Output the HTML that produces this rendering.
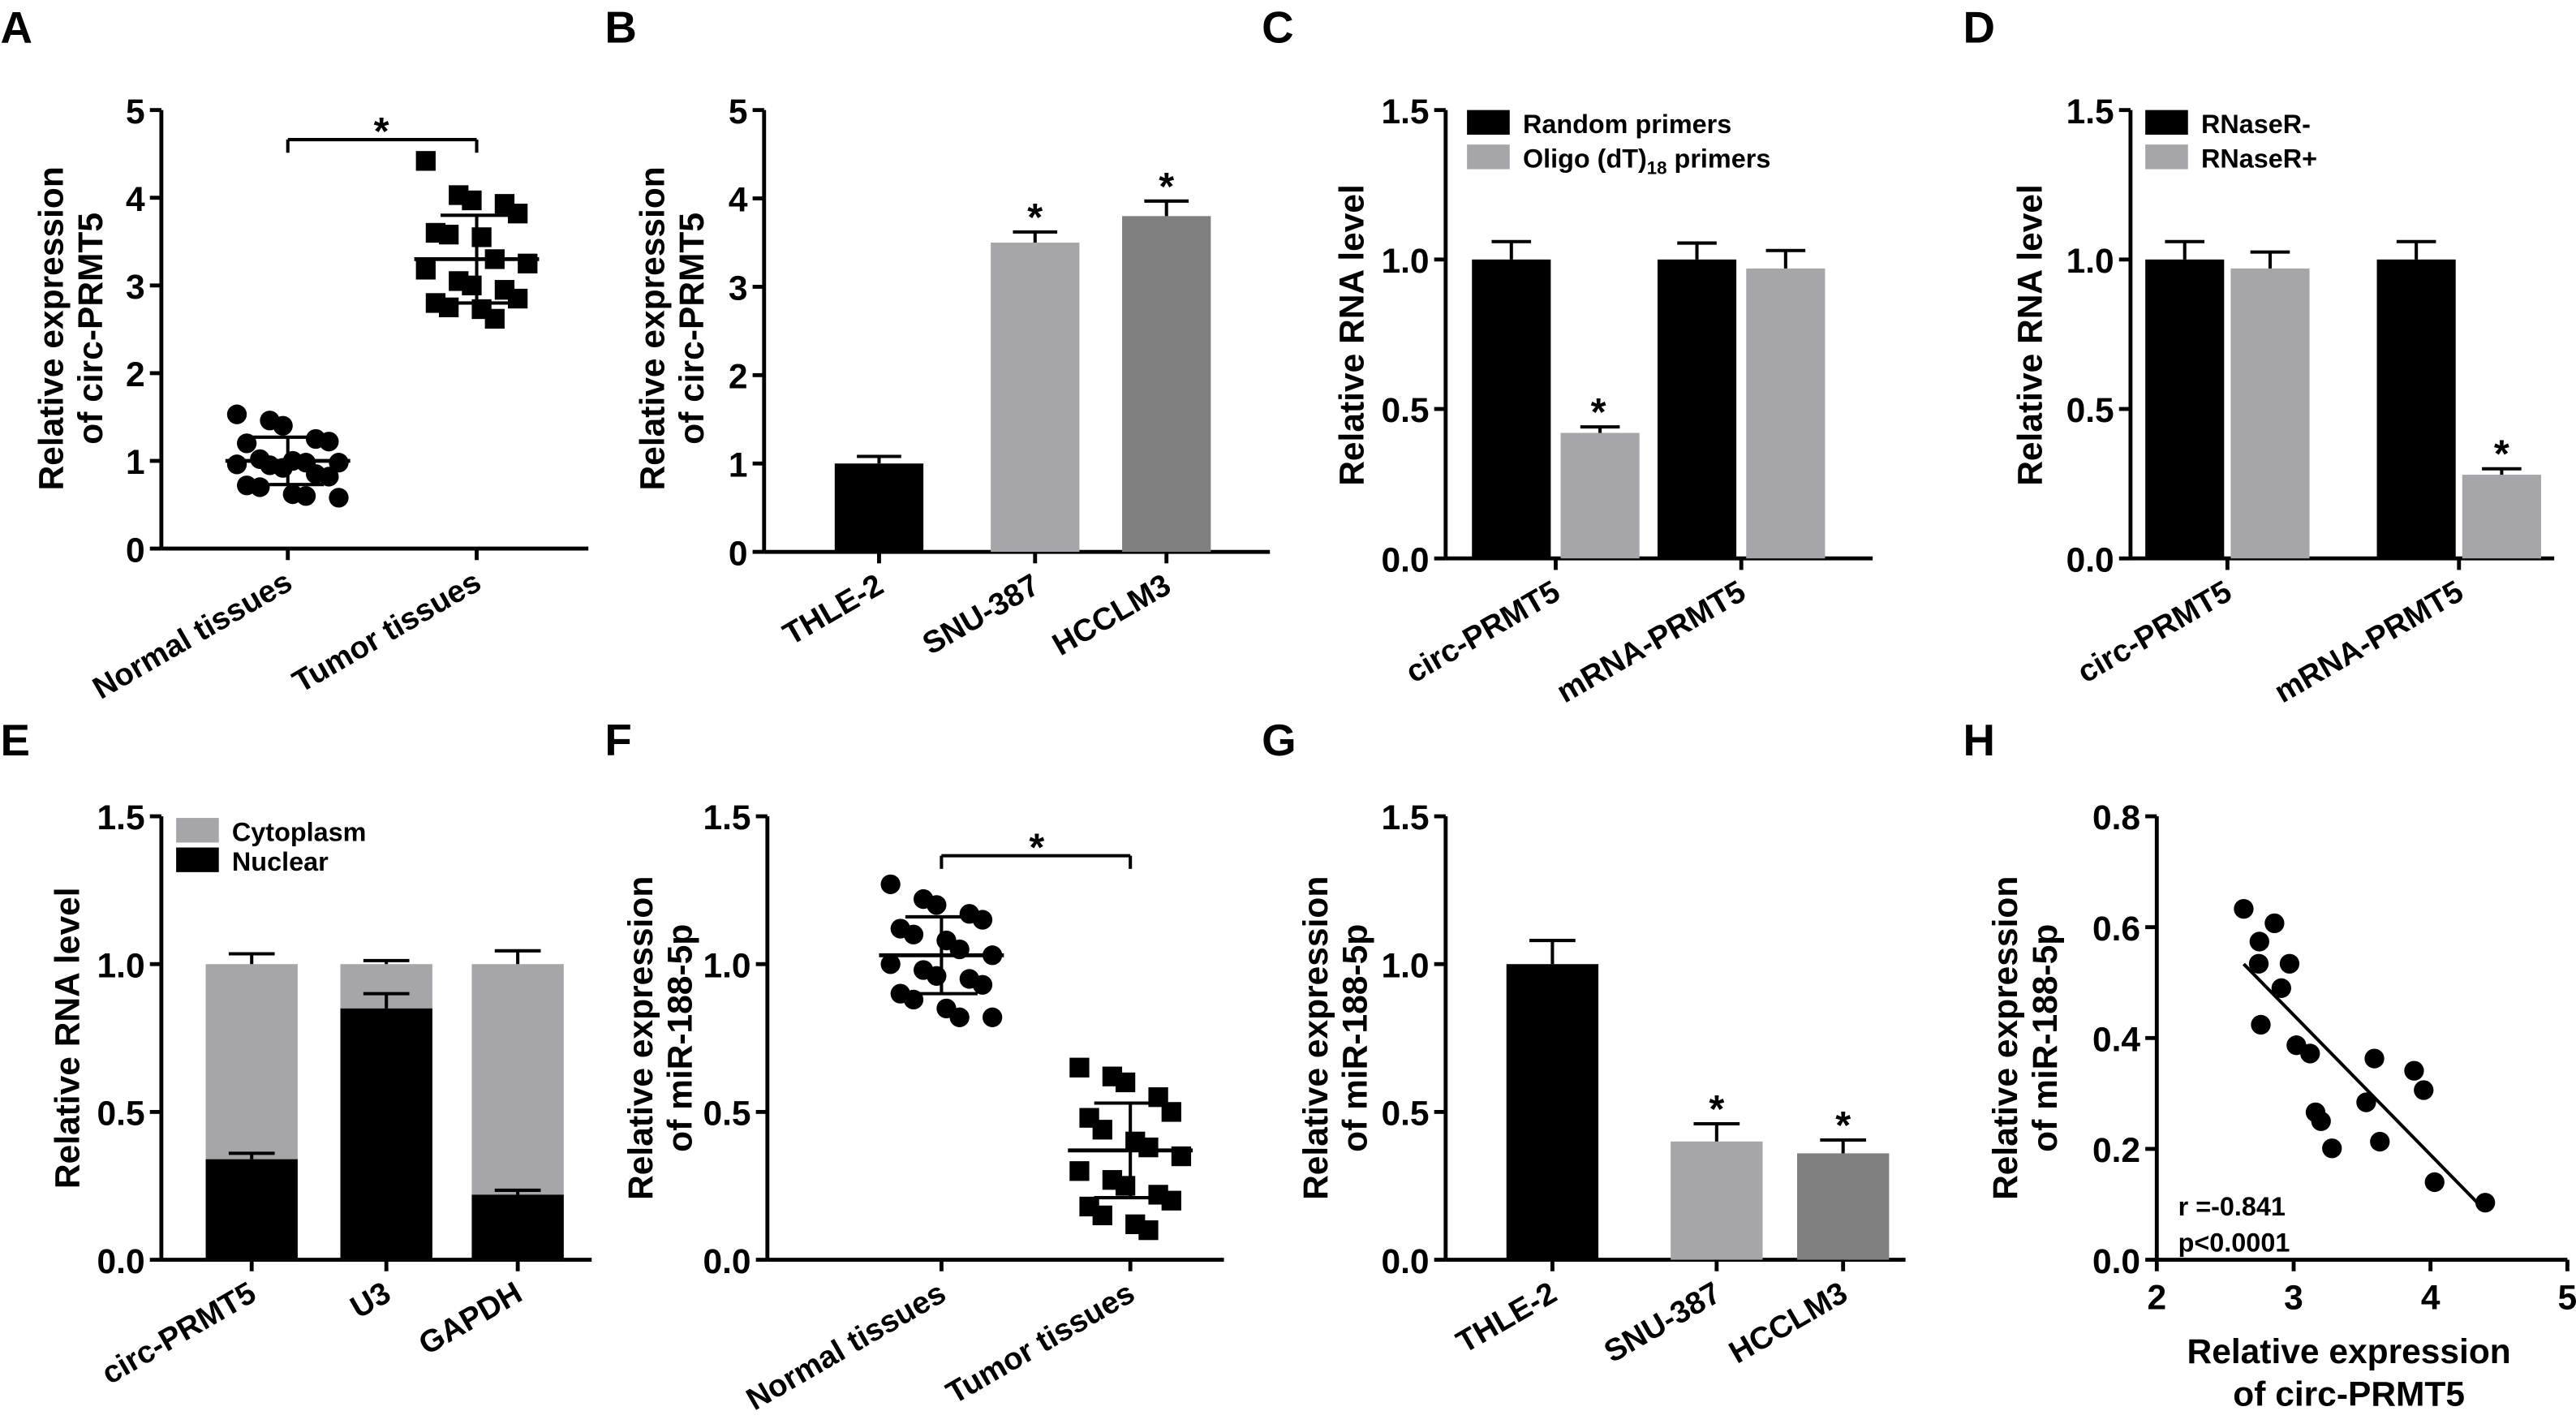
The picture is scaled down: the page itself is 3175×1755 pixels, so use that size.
<!DOCTYPE html>
<html><head><meta charset="utf-8"><style>
html,body{margin:0;padding:0;background:#fff;}
svg{display:block;font-family:"Liberation Sans",Arial,sans-serif;font-weight:bold;}
</style></head><body>
<svg id="fig" width="3175" height="1755" viewBox="0 0 1568 867" xmlns="http://www.w3.org/2000/svg"></svg>
<script>
// ---------- data ----------
const aNormal=[1.53,1.46,1.40,1.25,1.22,1.20,1.02,1.00,0.98,0.98,0.96,0.95,0.92,0.85,0.82,0.72,0.70,0.62,0.60,0.58];
const aTumor=[4.42,4.03,3.97,3.93,3.82,3.60,3.58,3.55,3.30,3.25,3.18,3.05,3.00,2.95,2.85,2.80,2.75,2.73,2.62];
const aMean=[1.0,3.3]; const aSD=[0.27,0.5];
const bCats=['THLE-2','SNU-387','HCCLM3']; const bVals=[1.0,3.5,3.8]; const bErr=[0.08,0.12,0.17];
const cCats=['circ-PRMT5','mRNA-PRMT5']; const cRandom=[1.0,1.0]; const cRandomErr=[0.06,0.055]; const cOligo=[0.42,0.97]; const cOligoErr=[0.02,0.06];
const dCats=['circ-PRMT5','mRNA-PRMT5']; const dMinus=[1.0,1.0]; const dMinusErr=[0.06,0.06]; const dPlus=[0.97,0.28]; const dPlusErr=[0.055,0.02];
const eCats=['circ-PRMT5','U3','GAPDH']; const eNuclear=[0.34,0.85,0.22]; const eNuclearErr=[0.02,0.05,0.015]; const eTotal=[1.0,1.0,1.0]; const eTotalErr=[0.035,0.012,0.045];
const fNormal=[1.27,1.22,1.20,1.17,1.15,1.12,1.10,1.08,1.05,1.03,1.00,0.98,0.96,0.95,0.93,0.90,0.88,0.85,0.82,0.82];
const fTumor=[0.65,0.62,0.60,0.55,0.50,0.48,0.44,0.40,0.38,0.35,0.30,0.27,0.25,0.22,0.20,0.18,0.15,0.12,0.10];
const fMean=[1.03,0.37]; const fSD=[0.13,0.16];
const gCats=['THLE-2','SNU-387','HCCLM3']; const gVals=[1.0,0.40,0.36]; const gErr=[0.08,0.06,0.045];
const hX=[2.635,2.86,2.75,2.745,2.97,2.91,2.76,3.02,3.12,3.59,3.88,3.95,3.53,3.16,3.20,3.63,3.28,4.03,4.40];
const hY=[0.633,0.607,0.574,0.534,0.534,0.490,0.424,0.387,0.372,0.363,0.341,0.306,0.284,0.266,0.250,0.213,0.201,0.140,0.103];
const ticks5=['0','1','2','3','4','5']; const ticks15=['0.0','0.5','1.0','1.5']; const ticksH=['0.0','0.2','0.4','0.6','0.8']; const ticksHx=['2','3','4','5'];

const NS='http://www.w3.org/2000/svg'; const svg=document.getElementById('fig');
function mk(tag,attrs,name,parent){const e=document.createElementNS(NS,tag);for(const k in attrs)e.setAttribute(k,attrs[k]);


(parent||svg).appendChild(e);return e;}
function txt(x,y,s,size,name,extra){const t=mk('text',Object.assign({x:x,y:y,'font-size':size,fill:'#000'},extra||{}),name);t.textContent=s;return t;}
function line(x1,y1,x2,y2,name,w){return mk('line',{x1,y1,x2,y2,stroke:'#000','stroke-width':w||2.4},name);}

function axis(o){
  mk('g',{},o.key+'-axes');
  const ys=v=>o.y0-(v-o.vmin)/(o.vmax-o.vmin)*(o.y0-o.ytop);
  line(o.x0,o.ytop,o.x0,o.y0,o.key+'-y-axis');
  line(o.x0,o.y0,o.x1,o.y0,o.key+'-x-axis');
  o.labels.forEach((l,i)=>{const v=o.vmin+i*(o.vmax-o.vmin)/(o.labels.length-1);const y=ys(v);
    line(o.x0-7,y,o.x0,y,o.key+'-y-tick');
    txt(o.x0-10,y+8,l,21,o.key+'-y-tick-label',{'text-anchor':'end'});});
  return ys;}
function yTitle(x,y,lines,name){lines.forEach((l,i)=>txt(x+i*24,y,l,21,name,{'text-anchor':'middle',transform:`rotate(-90 ${x+i*24} ${y})`}));}
function xCat(x,y0,label,key){line(x,y0,x,y0+7,key+'-x-tick');txt(x+4,y0+24,label,19,key+'-x-label',{'text-anchor':'end',transform:`rotate(-30 ${x+4} ${y0+24})`});}
function bar(cx,w,v,err,ys,y0,color,name){mk('rect',{x:cx-w/2,y:ys(v),width:w,height:y0-ys(v),fill:color},name);
  line(cx,ys(v),cx,ys(v+err),name+'-error',2);line(cx-w/4,ys(v+err),cx+w/4,ys(v+err),name+'-error-cap',2);}
function star(x,y,name){txt(x,y,'*',24,name,{'text-anchor':'middle'});}
function panel(l,x,y){txt(x,y,l,27,'panel-label-'+l.toLowerCase());}
function scatter(vals,cx,ys,shape,name){vals.forEach((v,i)=>{const off=((i%5)-2)*14+((i%2)?3:-3);const y=ys(v);
  if(shape==='c')mk('circle',{cx:cx+off,cy:y,r:6,fill:'#000'},name);else mk('rect',{x:cx+off-6,y:y-6,width:12,height:12,fill:'#000'},name);});}
function meanSD(cx,m,sd,ys,name){line(cx-38,ys(m),cx+38,ys(m),name+'-mean',2.4);line(cx,ys(m-sd),cx,ys(m+sd),name+'-sd',2);
  line(cx-22,ys(m+sd),cx+22,ys(m+sd),name+'-sd-cap',2);line(cx-22,ys(m-sd),cx+22,ys(m-sd),name+'-sd-cap',2);}
function legend(x,y,color,label,name,sub){mk('rect',{x:x,y:y-8,width:26,height:15,fill:color},name+'-swatch');const t=txt(x+34,y+6,label,16,name+'-label');if(sub){const s=document.createElementNS(NS,'tspan');s.setAttribute('font-size','11');s.setAttribute('dy','4');s.textContent=sub[0];t.appendChild(s);const s2=document.createElementNS(NS,'tspan');s2.setAttribute('dy','-4');s2.textContent=sub[1];t.appendChild(s2);}}

// ---------- A ----------
panel('A',0,26);
let ys=axis({x0:98,y0:334,x1:358,ytop:67,vmin:0,vmax:5,labels:ticks5,key:'a'});
yTitle(38,200,['Relative expression','of circ-PRMT5'],'a-y-title');
scatter(aNormal,175,ys,'c','a-normal-point');scatter(aTumor,290,ys,'s','a-tumor-point');
meanSD(175,aMean[0],aSD[0],ys,'a-normal');meanSD(290,aMean[1],aSD[1],ys,'a-tumor');
xCat(175,334,'Normal tissues','a');xCat(290,334,'Tumor tissues','a');
line(175,85,290,85,'a-bracket',2);line(175,85,175,93,'a-bracket',2);line(290,85,290,93,'a-bracket',2);star(232,88,'a-star');

// ---------- B ----------
panel('B',368,26);
ys=axis({x0:465,y0:336,x1:773,ytop:67,vmin:0,vmax:5,labels:ticks5,key:'b'});
yTitle(404,200,['Relative expression','of circ-PRMT5'],'b-y-title');
const bX=[535,630,710],bCol=['#000','#a6a6aa','#808080'];
bCats.forEach((c,i)=>{bar(bX[i],54,bVals[i],bErr[i],ys,336,bCol[i],'b-bar-'+c.toLowerCase());if(i>0)star(bX[i],ys(bVals[i]+bErr[i])-1,'b-star');xCat(bX[i],336,c,'b');});

// ---------- C ----------
panel('C',768,26);
ys=axis({x0:880,y0:340,x1:1140,ytop:67,vmin:0,vmax:1.5,labels:ticks15,key:'c'});
yTitle(830,204,['Relative RNA level'],'c-y-title');
const cG=[947,1060];
cCats.forEach((c,i)=>{bar(cG[i]-27,48,cRandom[i],cRandomErr[i],ys,340,'#000','c-bar-random');bar(cG[i]+27,48,cOligo[i],cOligoErr[i],ys,340,'#a6a6aa','c-bar-oligo');xCat(cG[i],340,c,'c');});
star(973,ys(cOligo[0]+cOligoErr[0])-1,'c-star');
legend(893,75,'#000','Random primers','c-legend-random');legend(893,96,'#a6a6aa','Oligo (dT)','c-legend-oligo',['18',' primers']);

// ---------- D ----------
panel('D',1195,26);
ys=axis({x0:1297,y0:340,x1:1555,ytop:67,vmin:0,vmax:1.5,labels:ticks15,key:'d'});
yTitle(1243,204,['Relative RNA level'],'d-y-title');
const dG=[1356,1497];
dCats.forEach((c,i)=>{bar(dG[i]-26,48,dMinus[i],dMinusErr[i],ys,340,'#000','d-bar-rnaser-minus');bar(dG[i]+26,48,dPlus[i],dPlusErr[i],ys,340,'#a6a6aa','d-bar-rnaser-plus');xCat(dG[i],340,c,'d');});
star(1523,ys(dPlus[1]+dPlusErr[1])-1,'d-star');
legend(1306,75,'#000','RNaseR-','d-legend-minus');legend(1306,96,'#a6a6aa','RNaseR+','d-legend-plus');

// ---------- E ----------
panel('E',0,460);
ys=axis({x0:98,y0:767,x1:360,ytop:497,vmin:0,vmax:1.5,labels:ticks15,key:'e'});
yTitle(48,632,['Relative RNA level'],'e-y-title');
const eX=[153,235,315];
eCats.forEach((c,i)=>{bar(eX[i],56,eTotal[i],eTotalErr[i],ys,767,'#a6a6aa','e-bar-cytoplasm');bar(eX[i],56,eNuclear[i],eNuclearErr[i],ys,767,'#000','e-bar-nuclear');xCat(eX[i],767,c,'e');});
legend(107,506,'#a6a6aa','Cytoplasm','e-legend-cytoplasm');legend(107,524,'#000','Nuclear','e-legend-nuclear');

// ---------- F ----------
panel('F',368,460);
ys=axis({x0:467,y0:767,x1:745,ytop:497,vmin:0,vmax:1.5,labels:ticks15,key:'f'});
yTitle(397,632,['Relative expression','of miR-188-5p'],'f-y-title');
scatter(fNormal,573,ys,'c','f-normal-point');scatter(fTumor,688,ys,'s','f-tumor-point');
meanSD(573,fMean[0],fSD[0],ys,'f-normal');meanSD(688,fMean[1],fSD[1],ys,'f-tumor');
xCat(573,767,'Normal tissues','f');xCat(688,767,'Tumor tissues','f');
line(573,521,688,521,'f-bracket',2);line(573,521,573,529,'f-bracket',2);line(688,521,688,529,'f-bracket',2);star(631,524,'f-star');

// ---------- G ----------
panel('G',768,460);
ys=axis({x0:880,y0:767,x1:1160,ytop:497,vmin:0,vmax:1.5,labels:ticks15,key:'g'});
yTitle(808,632,['Relative expression','of miR-188-5p'],'g-y-title');
const gX=[945,1045,1122];
gCats.forEach((c,i)=>{bar(gX[i],56,gVals[i],gErr[i],ys,767,bCol[i],'g-bar-'+c.toLowerCase());if(i>0)star(gX[i],ys(gVals[i]+gErr[i])-1,'g-star');xCat(gX[i],767,c,'g');});

// ---------- H ----------
panel('H',1195,460);
ys=axis({x0:1313,y0:767,x1:1563,ytop:497,vmin:0,vmax:0.8,labels:ticksH,key:'h'});
const xs=v=>1313+(v-2)/3*250;
ticksHx.forEach((l,i)=>{const x=xs(2+i);line(x,767,x,774,'h-x-tick');txt(x,797,l,21,'h-x-tick-label',{'text-anchor':'middle'});});
yTitle(1228,632,['Relative expression','of miR-188-5p'],'h-y-title');
txt(1430,830,'Relative expression',21,'h-x-title',{'text-anchor':'middle'});txt(1430,856,'of circ-PRMT5',21,'h-x-title',{'text-anchor':'middle'});
hX.forEach((x,i)=>mk('circle',{cx:xs(x),cy:ys(hY[i]),r:6,fill:'#000'},'h-point'));
(function(){const n=hX.length,mx=hX.reduce((a,b)=>a+b)/n,my=hY.reduce((a,b)=>a+b)/n;let sxy=0,sxx=0;for(let i=0;i<n;i++){sxy+=(hX[i]-mx)*(hY[i]-my);sxx+=(hX[i]-mx)**2;}
const b=sxy/sxx,a=my-b*mx,x1=Math.min(...hX),x2=Math.max(...hX);line(xs(x1),ys(a+b*x1),xs(x2),ys(a+b*x2),'h-regression-line',2);})();
txt(1326,740,'r =-0.841',16,'h-r-value');txt(1326,762,'p<0.0001',16,'h-p-value');
</script>
</body></html>
